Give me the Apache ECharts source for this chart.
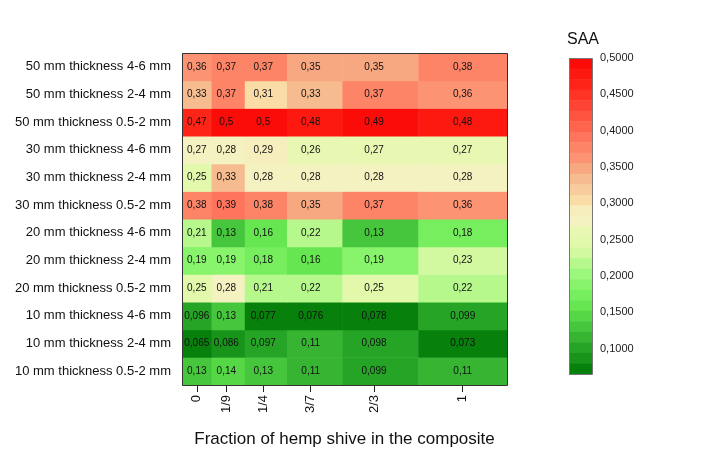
<!DOCTYPE html>
<html><head><meta charset="utf-8">
<script src="https://cdn.jsdelivr.net/npm/echarts@6/dist/echarts.min.js"></script>
<style>html,body{margin:0;padding:0;background:#fff}#c{width:703px;height:465px}</style>
</head><body><div id="c"></div>
<script>
// ---- data ----
var fractions = [0, 1/9, 1/4, 3/7, 2/3, 1];
var fractionLabels = ['0', '1/9', '1/4', '3/7', '2/3', '1'];
// rows listed bottom to top
var rowLabels = [
  '10 mm thickness 0.5-2 mm', '10 mm thickness 2-4 mm', '10 mm thickness 4-6 mm',
  '20 mm thickness 0.5-2 mm', '20 mm thickness 2-4 mm', '20 mm thickness 4-6 mm',
  '30 mm thickness 0.5-2 mm', '30 mm thickness 2-4 mm', '30 mm thickness 4-6 mm',
  '50 mm thickness 0.5-2 mm', '50 mm thickness 2-4 mm', '50 mm thickness 4-6 mm'
];
var r10_05 = [0.13, 0.14, 0.13, 0.11, 0.099, 0.11];
var r10_24 = [0.065, 0.086, 0.097, 0.11, 0.098, 0.073];
var r10_46 = [0.096, 0.13, 0.077, 0.076, 0.078, 0.099];
var r20_05 = [0.25, 0.28, 0.21, 0.22, 0.25, 0.22];
var r20_24 = [0.19, 0.19, 0.18, 0.16, 0.19, 0.23];
var r20_46 = [0.21, 0.13, 0.16, 0.22, 0.13, 0.18];
var r30_05 = [0.38, 0.39, 0.38, 0.35, 0.37, 0.36];
var r30_24 = [0.25, 0.33, 0.28, 0.28, 0.28, 0.28];
var r30_46 = [0.274, 0.28, 0.29, 0.26, 0.266, 0.266];
var r50_05 = [0.47, 0.5, 0.5, 0.48, 0.49, 0.48];
var r50_24 = [0.33, 0.37, 0.31, 0.33, 0.37, 0.36];
var r50_46 = [0.36, 0.37, 0.37, 0.35, 0.35, 0.38];
var rows = [r10_05, r10_24, r10_46, r20_05, r20_24, r20_46, r30_05, r30_24, r30_46, r50_05, r50_24, r50_46];
var cbMin = 0.065, cbMax = 0.5;
var cbTicks = [0.1, 0.15, 0.2, 0.25, 0.3, 0.35, 0.4, 0.45, 0.5];
var axisTitle = 'Fraction of hemp shive in the composite';
var legendTitle = 'SAA';

// ---- style: colour bands, top (high) to bottom (low) ----
var bandColors = [
  '#fc0c08','#fd1810','#fe2418','#ff3424','#ff4433','#ff5540','#ff644d','#ff745c','#fe8468','#fc9474',
  '#f8a880','#f6bc90','#f8cc9c','#fadca6','#f6eebc','#f4f2c0','#e8f8b2','#e2f8aa','#d2f8a0','#b6f88c',
  '#9cf87c','#88f46c','#76ee5e','#66e650','#56d846','#46c63c','#36b432','#26a426','#18941a','#08800c'
];
var nb = bandColors.length, bw = (cbMax - cbMin) / nb;
var pieces = [], bandData = [];
for (var i = 0; i < nb; i++) {
  var hi = cbMax - i * bw, lo = cbMax - (i + 1) * bw;
  var p = { color: bandColors[i] };
  if (i < nb - 1) p.gt = lo;
  if (i > 0) p.lte = hi;
  pieces.push(p);
  bandData.push([0, 1, (hi + lo) / 2, lo, hi]);
}

// cell edges at midpoints between fractions
var edges = [];
for (var j = 0; j <= fractions.length; j++) {
  if (j === 0) edges.push(fractions[0] - (fractions[1] - fractions[0]) / 2);
  else if (j === fractions.length) edges.push(fractions[j - 1] + (fractions[j - 1] - fractions[j - 2]) / 2);
  else edges.push((fractions[j - 1] + fractions[j]) / 2);
}
var cellData = [];
rows.forEach(function (row, ri) {
  row.forEach(function (v, ci) {
    cellData.push([edges[ci], edges[ci + 1], v, ri, fractions[ci]]);
  });
});
function fmtVal(v) { return String(parseFloat(v.toPrecision(2))).replace('.', ','); }

var FONT = "'Liberation Sans', Arial, sans-serif";
var G = { left: 182, top: 53, width: 325, height: 332 };
var CB = { left: 569, top: 58, width: 23, height: 316 };

var chart = echarts.init(document.getElementById('c'), null, { renderer: 'canvas' });
chart.setOption({
  animation: false,
  backgroundColor: '#fff',
  textStyle: { fontFamily: FONT },
  title: { text: legendTitle, left: 562, top: 27, textStyle: { fontSize: 16, fontWeight: 'normal', color: '#111', fontFamily: FONT } },
  grid: [
    { left: G.left, top: G.top, width: G.width, height: G.height },
    { left: CB.left, top: CB.top, width: CB.width, height: CB.height }
  ],
  xAxis: [
    {
      type: 'value', gridIndex: 0, min: edges[0], max: edges[edges.length - 1],
      axisLine: { show: false }, splitLine: { show: false },
      axisTick: { show: true, length: 7, customValues: fractions, lineStyle: { color: '#222' } },
      axisLabel: {
        customValues: fractions, rotate: 90, margin: 10, fontSize: 13, color: '#111', fontFamily: FONT,
        formatter: function (v) {
          for (var k = 0; k < fractions.length; k++) if (Math.abs(v - fractions[k]) < 1e-6) return fractionLabels[k];
          return '';
        }
      },
      name: axisTitle, nameLocation: 'middle', nameGap: 46,
      nameTextStyle: { fontSize: 17, color: '#111', fontFamily: FONT }
    },
    { type: 'value', gridIndex: 1, min: 0, max: 1, show: false }
  ],
  yAxis: [
    {
      type: 'category', gridIndex: 0, data: rowLabels,
      axisLine: { show: false }, splitLine: { show: false },
      axisTick: { show: true, alignWithLabel: true, length: 8, lineStyle: { color: '#222' } },
      axisLabel: { fontSize: 13, color: '#111', margin: 11, fontFamily: FONT }
    },
    {
      type: 'value', gridIndex: 1, min: cbMin, max: cbMax, position: 'right',
      axisLine: { show: false }, splitLine: { show: false },
      axisTick: { show: true, length: 5, customValues: cbTicks, lineStyle: { color: '#555' } },
      axisLabel: {
        customValues: cbTicks, margin: 8, fontSize: 11, color: '#222', fontFamily: FONT,
        formatter: function (v) { return v.toFixed(4).replace('.', ','); }
      }
    }
  ],
  visualMap: {
    type: 'piecewise', show: false, dimension: 2, seriesIndex: [0, 1], pieces: pieces
  },
  series: [
    {
      type: 'custom', xAxisIndex: 0, yAxisIndex: 0, data: cellData,
      renderItem: function (params, api) {
        var p1 = api.coord([api.value(0), api.value(3)]);
        var p2 = api.coord([api.value(1), api.value(3)]);
        var pc = api.coord([api.value(4), api.value(3)]);
        var h = api.size([0, 1])[1];
        var v = api.value(2);
        var c = api.visual('color');
        return {
          type: 'group',
          children: [
            { type: 'rect', shape: { x: p1[0], y: p1[1] - h / 2, width: p2[0] - p1[0] + 0.5, height: h + 0.5 }, style: { fill: c } },
            { type: 'text', z2: 10, style: { x: pc[0], y: pc[1], text: fmtVal(v), fill: '#111', font: '10px ' + FONT, align: 'center', verticalAlign: 'middle' } }
          ]
        };
      }
    },
    {
      type: 'custom', xAxisIndex: 1, yAxisIndex: 1, data: bandData,
      renderItem: function (params, api) {
        var p1 = api.coord([api.value(0), api.value(4)]);
        var p2 = api.coord([api.value(1), api.value(3)]);
        return { type: 'rect', shape: { x: p1[0], y: p1[1], width: p2[0] - p1[0], height: p2[1] - p1[1] + 0.5 }, style: { fill: api.visual('color') } };
      }
    }
  ],
  graphic: [
    { type: 'rect', z: 100, shape: { x: G.left + 0.5, y: G.top + 0.5, width: G.width, height: G.height }, style: { fill: null, stroke: '#333', lineWidth: 1 } },
    { type: 'rect', z: 100, shape: { x: CB.left + 0.5, y: CB.top + 0.5, width: CB.width, height: CB.height }, style: { fill: null, stroke: '#777', lineWidth: 1 } }
  ]
});
</script></body></html>
